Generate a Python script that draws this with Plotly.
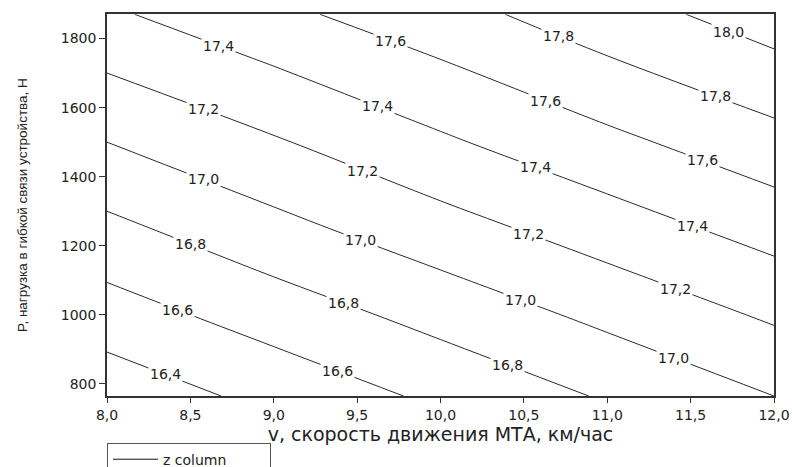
import numpy as np
import plotly.graph_objects as go

# Speed of the MTA (km/h) and load in the flexible link (N)
v_speed = [8.0, 9.0, 10.0, 11.0, 12.0]
p_load = [765, 1000, 1250, 1500, 1750, 1870]

# Response values on the (P, v) grid, rows follow p_load, columns follow v_speed
z_values = [
    [16.27, 16.46, 16.64, 16.82, 17.00],
    [16.51, 16.69, 16.87, 17.05, 17.23],
    [16.75, 16.94, 17.12, 17.30, 17.48],
    [17.00, 17.18, 17.37, 17.55, 17.73],
    [17.25, 17.43, 17.61, 17.80, 17.98],
    [17.37, 17.55, 17.73, 17.91, 18.10],
]

# Contour levels that are drawn and labelled
levels = [16.4, 16.6, 16.8, 17.0, 17.2, 17.4, 17.6, 17.8, 18.0]

x_ticks = [8.0, 8.5, 9.0, 9.5, 10.0, 10.5, 11.0, 11.5, 12.0]
y_ticks = [800, 1000, 1200, 1400, 1600, 1800]

# Speeds at which each level carries an inline label
label_speeds = {
    16.4: [8.35],
    16.6: [8.42, 9.38],
    16.8: [8.50, 9.42, 10.40],
    17.0: [8.58, 9.52, 10.48, 11.40],
    17.2: [8.58, 9.53, 10.53, 11.41],
    17.4: [8.67, 9.62, 10.57, 11.51],
    17.6: [9.70, 10.63, 11.57],
    17.8: [10.71, 11.65],
    18.0: [11.73],
}

z_arr = np.array(z_values)
p_arr = np.array(p_load, dtype=float)


def load_on_level(level, v):
    """Load P where the gridded surface crosses `level` at speed v."""
    column = np.array([np.interp(v, v_speed, row) for row in z_arr])
    return float(np.interp(level, column, p_arr))


fig = go.Figure()

fig.add_trace(go.Contour(
    x=v_speed,
    y=p_load,
    z=z_values,
    contours=dict(
        coloring="none",
        start=levels[0],
        end=levels[-1],
        size=0.2,
        showlabels=False,
    ),
    line=dict(color="#111", width=0.9),
    showscale=False,
    showlegend=False,
    hoverinfo="skip",
))

# Legend entry for the contour lines
fig.add_trace(go.Scatter(
    x=[None], y=[None],
    mode="lines",
    line=dict(color="#111", width=1),
    name="z column",
    showlegend=True,
))

# Horizontal inline labels that break the contour lines
annotations = []
for level in levels:
    for v in label_speeds[level]:
        annotations.append(dict(
            x=v, y=load_on_level(level, v),
            xref="x", yref="y",
            text=f"{level:.1f}".replace(".", ","),
            showarrow=False,
            bgcolor="white",
            borderpad=1,
            font=dict(family="DejaVu Sans", size=14, color="#222"),
        ))

fig.update_layout(
    width=792,
    height=467,
    margin=dict(l=107, r=18, t=14, b=71, autoexpand=False),
    paper_bgcolor="white",
    plot_bgcolor="white",
    separators=", ",
    showlegend=True,
    annotations=annotations,
    legend=dict(
        x=0, y=-0.122, xanchor="left", yanchor="top",
        orientation="h",
        entrywidth=102,
        itemwidth=45,
        bordercolor="#555", borderwidth=1,
        bgcolor="white",
        font=dict(family="DejaVu Sans", size=14, color="#222"),
    ),
    xaxis=dict(
        range=[8.0, 12.0],
        tickvals=x_ticks,
        tickformat=".1f",
        ticks="outside", ticklen=5, tickwidth=1, tickcolor="#333",
        showline=True, linecolor="#333", linewidth=1.5, mirror=True,
        showgrid=False, zeroline=False,
        automargin=False,
        tickfont=dict(family="DejaVu Sans", size=14, color="#222"),
        title=dict(text="v, скорость движения МТА, км/час",
                   font=dict(family="DejaVu Sans", size=19, color="#222"),
                   standoff=4),
    ),
    yaxis=dict(
        range=[765, 1871],
        tickvals=y_ticks,
        tickformat="d",
        ticks="outside", ticklen=6, tickwidth=1, tickcolor="#333",
        showline=True, linecolor="#333", linewidth=1.5, mirror=True,
        showgrid=False, zeroline=False,
        automargin=False,
        tickfont=dict(family="DejaVu Sans", size=14, color="#222"),
        title=dict(text="P, нагрузка в гибкой связи устройства, Н",
                   font=dict(family="Liberation Sans", size=13.5, color="#222"),
                   standoff=30),
    ),
)

fig.write_html("out.html")
